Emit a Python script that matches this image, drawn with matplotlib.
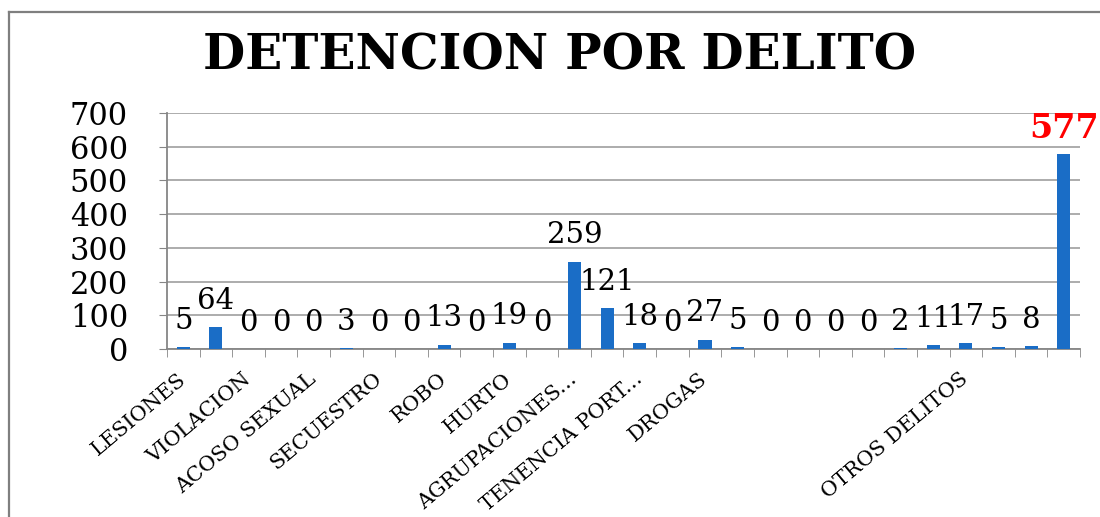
import numpy as np
import matplotlib.pyplot as plt
from matplotlib.lines import Line2D

plt.rc('font', family='DejaVu Serif')

# categories (only every other one carries a visible name)
delitos = ['LESIONES', '', 'VIOLACION', '', 'ACOSO SEXUAL', '', 'SECUESTRO', '',
           'ROBO', '', 'HURTO', '', 'AGRUPACIONES...', '', 'TENENCIA PORT...', '',
           'DROGAS', '', '', '', '', '', '', '', 'OTROS DELITOS', '', '', '']
detenciones = [5, 64, 0, 0, 0, 3, 0, 0, 13, 0, 19, 0, 259, 121, 18, 0,
               27, 5, 0, 0, 0, 0, 2, 11, 17, 5, 8, 577]
yticks = [0, 100, 200, 300, 400, 500, 600, 700]

x = np.arange(len(delitos))

fig = plt.figure(figsize=(11, 5.17), dpi=100)
ax = fig.add_axes([0.1518, 0.325, 0.83, 0.4564])

ax.bar(x, detenciones, width=0.4, color='#1a6dc6', zorder=3)

for i, v in enumerate(detenciones):
    if i == len(detenciones) - 1:
        ax.annotate(str(v), (x[i], v), xytext=(0, 19), textcoords='offset points',
                    ha='center', va='center', fontsize=24, color='red',
                    fontweight='bold', annotation_clip=False)
    else:
        ax.annotate(str(v), (x[i], v), xytext=(0, 19), textcoords='offset points',
                    ha='center', va='center', fontsize=21, color='black',
                    annotation_clip=False)

ax.set_xlim(-0.5, len(delitos) - 0.5)
ax.set_ylim(0, 700)
ax.set_yticks(yticks)
ax.set_yticklabels([str(t) for t in yticks], fontsize=22)
ax.tick_params(axis='y', length=6, pad=22, color='#868686')

ax.set_xticks(x)
ax.set_xticklabels(delitos, fontsize=15)
ax.set_xticks(np.arange(-0.5, len(delitos), 1), minor=True)
ax.tick_params(axis='x', which='major', length=0, pad=20)
ax.tick_params(axis='x', which='minor', length=6, color='#868686')
plt.setp(ax.get_xticklabels(), rotation=40, ha='right', va='center',
         rotation_mode='anchor')

ax.grid(axis='y', color='#a6a6a6', lw=1.3, zorder=0)
for s in ['top', 'right']:
    ax.spines[s].set_visible(False)
ax.spines['left'].set_color('#868686')
ax.spines['bottom'].set_color('#868686')
ax.spines['left'].set_linewidth(1.3)
ax.spines['bottom'].set_linewidth(1.3)

fig.text(0.509, 0.865, 'DETENCION POR DELITO', ha='center', va='baseline',
         fontsize=35, fontweight='bold')

# chart frame (cut off at right and bottom)
fig.add_artist(Line2D([0.008, 0.008], [0, 0.977], color='#7f7f7f', lw=1.6))
fig.add_artist(Line2D([0.008, 1], [0.977, 0.977], color='#7f7f7f', lw=1.6))

plt.savefig('out.png', dpi=100)
